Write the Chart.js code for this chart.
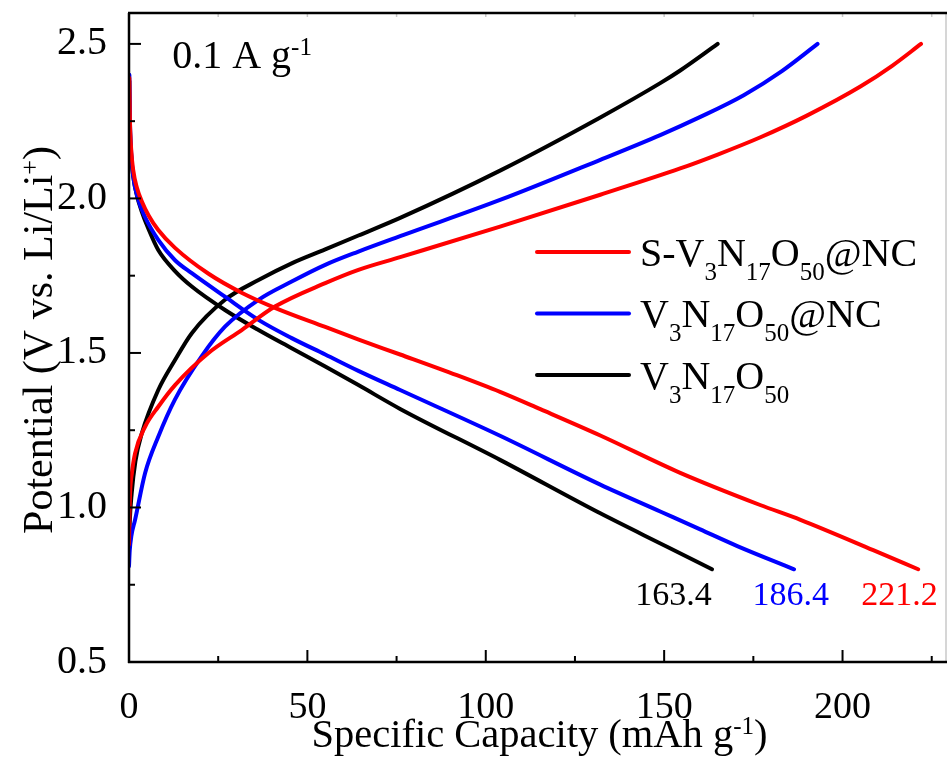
<!DOCTYPE html>
<html><head><meta charset="utf-8">
<script src="https://cdn.jsdelivr.net/npm/chart.js@4.4.1/dist/chart.umd.min.js"></script>
<style>html,body{margin:0;padding:0;background:#fff;}#wrap{width:948px;height:760px;}</style>
</head><body><div id="wrap"><canvas id="c" width="948" height="760"></canvas></div>
<script>
// ---- data (Specific capacity mAh/g, Potential V) ----
const redDisX = [0.1, 0.25, 0.6, 1.2, 2.2, 3.6, 5.5, 8.2, 12.9, 22.2, 31.7, 40.9, 55.0, 64.2, 76.0, 91.9, 104.0, 115.3, 132.1, 154.5, 176.9, 188.2, 208.6, 221.2];
const redDisY = [2.39, 2.26, 2.16, 2.09, 2.035, 1.99, 1.945, 1.898, 1.84, 1.757, 1.694, 1.646, 1.584, 1.544, 1.495, 1.428, 1.374, 1.318, 1.233, 1.112, 1.008, 0.960, 0.862, 0.80];
const redChgX = [0, 0.1, 0.3, 0.8, 1.7, 4.5, 8.2, 12.9, 22.2, 31.6, 40.9, 55.0, 64.3, 76.0, 104.0, 132.1, 154.5, 165.0, 177.0, 190.0, 205.0, 214.0, 222.0];
const redChgY = [0.88, 0.96, 1.046, 1.11, 1.175, 1.261, 1.326, 1.396, 1.499, 1.574, 1.650, 1.726, 1.769, 1.810, 1.909, 2.012, 2.097, 2.142, 2.198, 2.268, 2.362, 2.430, 2.50];

const blueDisX = [0.1, 0.25, 0.6, 1.2, 2.5, 4.5, 8.2, 12.9, 17.6, 26.9, 36.3, 45.6, 55.0, 64.3, 76.0, 104.0, 132.1, 148.9, 160.1, 170.5, 186.4];
const blueDisY = [2.40, 2.26, 2.15, 2.07, 2.0, 1.94, 1.866, 1.80, 1.758, 1.682, 1.607, 1.548, 1.495, 1.442, 1.38, 1.232, 1.074, 0.987, 0.929, 0.875, 0.80];
const blueChgX = [0, 0.2, 0.7, 1.7, 4.5, 8.2, 12.9, 20.4, 26.9, 36.3, 45.6, 55.0, 64.3, 77.0, 104.0, 132.1, 148.9, 160.0, 172.3, 183.0, 193.0];
const blueChgY = [0.81, 0.86, 0.91, 0.96, 1.111, 1.229, 1.35, 1.49, 1.585, 1.672, 1.731, 1.785, 1.828, 1.882, 1.995, 2.125, 2.205, 2.263, 2.334, 2.412, 2.50];

const blackDisX = [0.1, 0.25, 0.6, 1.2, 2.2, 3.5, 5.5, 8.2, 12.9, 17.6, 26.9, 36.3, 45.6, 55.0, 64.3, 76.0, 104.0, 132.1, 150.8, 163.4];
const blackDisY = [2.38, 2.24, 2.14, 2.07, 2.01, 1.96, 1.90, 1.833, 1.765, 1.715, 1.639, 1.574, 1.515, 1.456, 1.396, 1.319, 1.154, 0.981, 0.873, 0.80];
const blackChgX = [0, 0.2, 0.75, 1.8, 3.6, 8.2, 12.9, 17.6, 26.9, 36.3, 45.6, 55.0, 64.3, 76.0, 104.0, 132.1, 148.9, 154.5, 165.0];
const blackChgY = [0.86, 0.95, 1.046, 1.15, 1.24, 1.38, 1.477, 1.564, 1.672, 1.736, 1.79, 1.835, 1.880, 1.937, 2.09, 2.262, 2.373, 2.414, 2.50];

const seriesColors = ['#ff0000', '#0000ff', '#000000'];
const capacityLabels = ['221.2', '186.4', '163.4'];
const capacityLabelX = [216, 185.5, 152.6];
const capacityLabelY = 0.684;

const xTicks = [0, 50, 100, 150, 200];
const xTickLabels = ['0', '50', '100', '150', '200'];
const xMinorTicks = [25, 75, 125, 175, 225];
const yTicks = [0.5, 1.0, 1.5, 2.0, 2.5];
const yTickLabels = ['0.5', '1.0', '1.5', '2.0', '2.5'];
const yMinorTicks = [0.75, 1.25, 1.75, 2.25];

const FONT = "'Liberation Serif', 'Times New Roman', serif";

function pts(xs, ys){ return xs.map((v,i)=>({x:v, y:ys[i]})); }
function ds(xs, ys, color){
  return {data: pts(xs, ys), borderColor: color, backgroundColor: color, borderWidth: 4,
    pointRadius: 0, showLine: true, fill: false, cubicInterpolationMode: 'monotone',
    borderCapStyle: 'round', borderJoinStyle: 'round'};
}

function rich(ctx, parts, x, y, size, smallSize, color, align){
  ctx.fillStyle = color;
  ctx.textBaseline = 'alphabetic';
  ctx.textAlign = 'left';
  let w = 0;
  parts.forEach(p=>{ ctx.font = (p.s ? smallSize : size) + 'px ' + FONT; w += ctx.measureText(p.t).width; });
  let cx = align === 'center' ? x - w/2 : x;
  parts.forEach(p=>{
    ctx.font = (p.s ? smallSize : size) + 'px ' + FONT;
    const dy = p.s === 'sub' ? size*0.36 : (p.s === 'sup' ? -size*0.33 : 0);
    ctx.fillText(p.t, cx, y + dy);
    cx += ctx.measureText(p.t).width;
  });
}

const legendItems = [
  [{t:'S-V'},{t:'3',s:'sub'},{t:'N'},{t:'17',s:'sub'},{t:'O'},{t:'50',s:'sub'},{t:'@NC'}],
  [{t:'V'},{t:'3',s:'sub'},{t:'N'},{t:'17',s:'sub'},{t:'O'},{t:'50',s:'sub'},{t:'@NC'}],
  [{t:'V'},{t:'3',s:'sub'},{t:'N'},{t:'17',s:'sub'},{t:'O'},{t:'50',s:'sub'}]
];

const decor = {
  id: 'decor',
  afterDraw(chart){
    const {ctx, chartArea: a, scales: {x, y}} = chart;
    ctx.save();
    const line = (x1,y1,x2,y2)=>{ ctx.beginPath(); ctx.moveTo(x1,y1); ctx.lineTo(x2,y2); ctx.stroke(); };
    ctx.lineCap = 'butt';
    ctx.strokeStyle = '#c8c8c8'; ctx.lineWidth = 1.5;
    line(a.right, a.top, a.right, a.bottom);
    [...xTicks, ...xMinorTicks].forEach(v=>{ const p = x.getPixelForValue(v); line(p, a.top, p, a.top+4); });
    ctx.strokeStyle = '#000'; ctx.lineWidth = 2.5;
    line(a.left-1, a.top, a.right+1, a.top);
    line(a.left, a.top, a.left, a.bottom+1);
    line(a.left-1, a.bottom, a.right+1, a.bottom);
    ctx.lineWidth = 2;
    xTicks.forEach(v=>{ const p = x.getPixelForValue(v); line(p, a.bottom, p, a.bottom-12); });
    xMinorTicks.forEach(v=>{ const p = x.getPixelForValue(v); line(p, a.bottom, p, a.bottom-6); });
    yTicks.forEach(v=>{ const p = y.getPixelForValue(v); line(a.left, p, a.left+12, p); });
    yMinorTicks.forEach(v=>{ const p = y.getPixelForValue(v); line(a.left, p, a.left+6, p); });

    rich(ctx, [{t:'0.1 A g'},{t:'-1',s:'sup'}], x.getPixelForValue(12.1), y.getPixelForValue(2.422), 40, 25, '#000', 'left');

    ctx.font = '34px ' + FONT; ctx.textAlign = 'center'; ctx.textBaseline = 'alphabetic';
    capacityLabels.forEach((t,i)=>{ ctx.fillStyle = seriesColors[i]; ctx.fillText(t, x.getPixelForValue(capacityLabelX[i]), y.getPixelForValue(capacityLabelY)); });

    const legY = [252, 313.5, 375];
    legendItems.forEach((parts,i)=>{
      ctx.strokeStyle = seriesColors[i]; ctx.lineWidth = 4; ctx.lineCap = 'round';
      line(537, legY[i], 629, legY[i]);
      rich(ctx, parts, 640, legY[i]+13.5, 40, 25, '#000', 'left');
    });

    rich(ctx, [{t:'Specific Capacity (mAh g'},{t:'-1',s:'sup'},{t:')'}], (a.left+a.right)/2 + 2, 747, 40.5, 25, '#000', 'center');
    ctx.save();
    ctx.translate(52, 340);
    ctx.rotate(-Math.PI/2);
    rich(ctx, [{t:'Potential (V vs. Li/Li'},{t:'+',s:'sup'},{t:')'}], 0, 0, 42, 26, '#000', 'center');
    ctx.restore();
    ctx.restore();
  }
};

new Chart(document.getElementById('c'), {
  type: 'scatter',
  data: { datasets: [
    ds(redDisX, redDisY, seriesColors[0]), ds(redChgX, redChgY, seriesColors[0]),
    ds(blueDisX, blueDisY, seriesColors[1]), ds(blueChgX, blueChgY, seriesColors[1]),
    ds(blackDisX, blackDisY, seriesColors[2]), ds(blackChgX, blackChgY, seriesColors[2])
  ]},
  options: {
    responsive: false, animation: false, devicePixelRatio: 1,
    layout: { padding: { top: 13, right: 2, left: 0, bottom: 0 } },
    plugins: { legend: { display: false }, tooltip: { enabled: false } },
    scales: {
      x: { type: 'linear', min: 0, max: 229,
        afterFit(s){ s.height = 98; s.paddingLeft = 0; s.paddingRight = 0; },
        afterBuildTicks(s){ s.ticks = xTicks.map(v=>({value:v})); },
        ticks: { callback: (v,i)=>xTickLabels[i], color: '#000', font: { family: FONT, size: 38, lineHeight: 1 }, padding: 19, maxRotation: 0, autoSkip: false },
        grid: { display: false }, border: { display: false } },
      y: { type: 'linear', min: 0.5, max: 2.6,
        afterFit(s){ s.width = 129; s.paddingTop = 0; s.paddingBottom = 0; },
        afterBuildTicks(s){ s.ticks = yTicks.map(v=>({value:v})); },
        ticks: { callback: (v,i)=>yTickLabels[i], color: '#000', font: { family: FONT, size: 40, lineHeight: 1 }, padding: 14, autoSkip: false },
        grid: { display: false }, border: { display: false } }
    }
  },
  plugins: [decor]
});
</script></body></html>
